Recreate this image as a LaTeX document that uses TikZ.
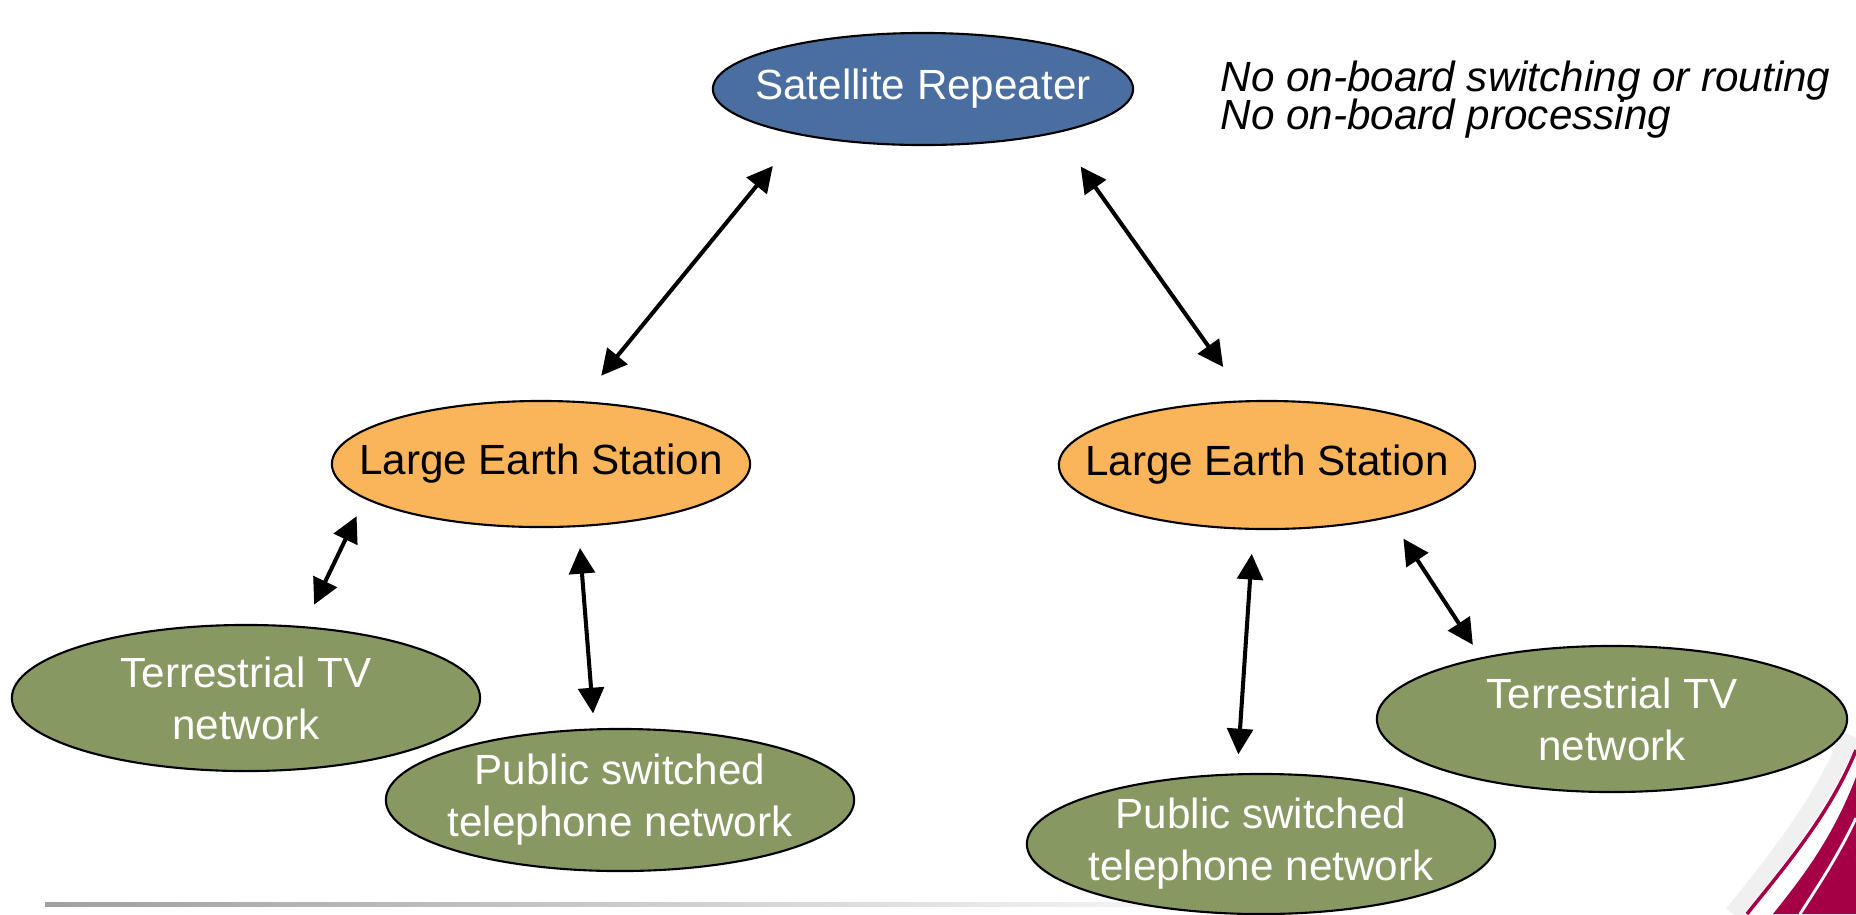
\documentclass[tikz,border=0pt]{standalone}
\usepackage{fontspec}
\setmainfont{Liberation Sans}
\usetikzlibrary{shapes.geometric,arrows.meta}
\definecolor{satblue}{RGB}{74,110,160}
\definecolor{stationorange}{RGB}{250,180,90}
\definecolor{netgreen}{RGB}{136,152,98}
\definecolor{swooshred}{RGB}{165,0,70}
\newcommand{\notelines}{\setlength{\lineskiplimit}{-10pt}}
\tikzset{
  bubble/.style={ellipse, draw=black, line width=0.6pt, inner xsep=-0.6cm, inner ysep=0pt,
    outer sep=0pt, align=center, font=\fontsize{12}{14.8}\selectfont},
  link/.style={{Triangle[length=7.3pt,width=7.3pt]}-{Triangle[length=7.3pt,width=7.3pt]}, line width=1.15pt},
  note/.style={anchor=west, align=left, inner sep=0pt,
    font=\fontsize{12}{10.8}\selectfont\itshape\notelines}
}
\begin{document}
\begin{tikzpicture}[x=0.01cm, y=-0.01cm]
        \useasboundingbox (0,0) rectangle (1856,914);

        % slide decoration
        \shade[left color=gray!75, right color=white] (45,902) rectangle (1300,906);
        \draw[gray!12, line width=5pt] (1850,735) .. controls (1822,805) and (1770,868) .. (1733,914);
        \draw[swooshred, line width=1pt] (1856,750) .. controls (1830,815) and (1782,870) .. (1747,914);
        \fill[swooshred] (1856,777) .. controls (1832,840) and (1800,880) .. (1773,914) -- (1856,914) -- cycle;
        \draw[white, line width=0.8pt] (1856,818) .. controls (1838,856) and (1818,886) .. (1800,914);

        % notes
        \node[note] (notes) at (1220,100) {No on-board switching or routing\\No on-board processing};

        % satellite
        \node[bubble, fill=satblue, text=white, minimum width=4.2cm, minimum height=1.12cm] (sat) at (923,89) {Satellite Repeater};

        % earth stations
        \node[bubble, fill=stationorange, minimum width=4.18cm, minimum height=1.26cm] (lesL) at (541,464) {Large Earth Station};
        \node[bubble, fill=stationorange, minimum width=4.16cm, minimum height=1.28cm] (lesR) at (1267,465) {Large Earth Station};

        % terrestrial networks
        \node[bubble, fill=netgreen, text=white, minimum width=4.68cm, minimum height=1.46cm] (tvL) at (246,698) {Terrestrial TV\\network};
        \node[bubble, fill=netgreen, text=white, minimum width=4.68cm, minimum height=1.42cm] (pstnL) at (620,800) {Public switched\\telephone network};
        \node[bubble, fill=netgreen, text=white, minimum width=4.68cm, minimum height=1.40cm] (pstnR) at (1261,844) {Public switched\\telephone network};
        \node[bubble, fill=netgreen, text=white, minimum width=4.70cm, minimum height=1.46cm] (tvR) at (1612,719) {Terrestrial TV\\network};

        % links
        \draw[link, shorten <=0.41cm, shorten >=0.34cm] (sat.200) -- (lesL.58);
        \draw[link, shorten <=0.42cm, shorten >=0.42cm] (sat.342) -- (lesR.107);
        \draw[link, shorten <=0.2cm, shorten >=0.25cm] (lesL.191) -- (tvL.51);
        \draw[link, shorten <=0.22cm, shorten >=0.16cm] (lesL.301) -- (pstnL.110);
        \draw[link, shorten <=0.25cm, shorten >=0.2cm] (lesR.258) -- (pstnR.109);
        \draw[link, shorten <=0.26cm, shorten >=0.16cm] (lesR.337) -- (tvR.155);
    \end{tikzpicture}
\end{document}
